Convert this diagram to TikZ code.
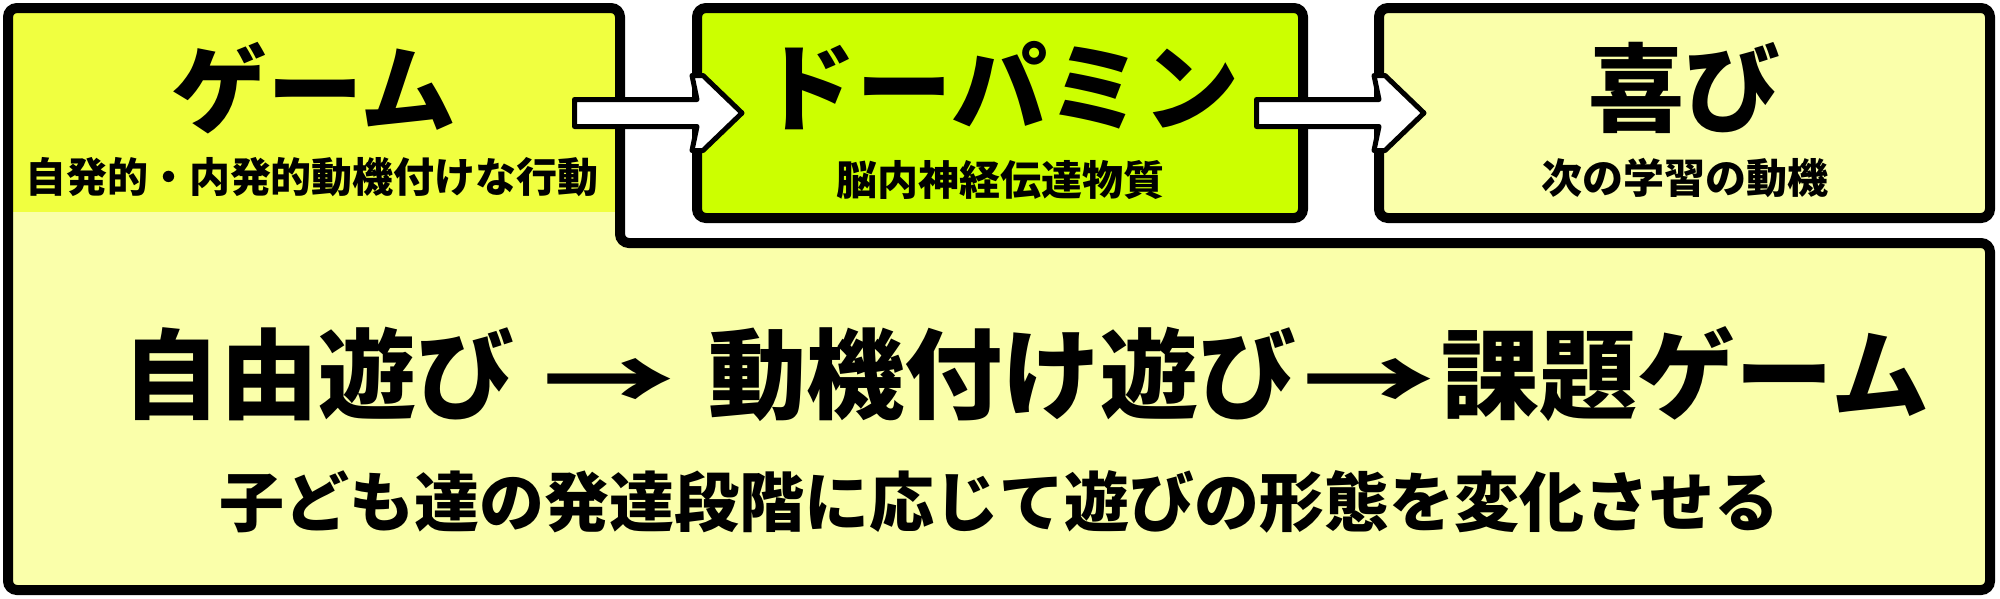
\documentclass[tikz,border=0pt]{standalone}
\usepackage{fontspec}
\setmainfont{Noto Sans CJK JP}
\usepackage{graphicx}
\usetikzlibrary{calc}
\definecolor{brightyel}{RGB}{240,255,64}
\definecolor{paleyel}{RGB}{250,255,170}
\definecolor{dopagreen}{RGB}{204,255,0}
\newcommand\longarr{\hspace{6pt}\resizebox{133pt}{53pt}{→}\hspace{6pt}}
\tikzset{
  outline/.style={draw=black, line width=10pt, rounded corners=9pt},
  topbox/.style={draw=black, line width=10pt, rounded corners=9pt, outer sep=0pt, inner sep=0pt},
  title/.style={font=\fontsize{96}{110}\selectfont\bfseries, inner sep=0pt},
  subtitle/.style={font=\fontsize{41}{48}\selectfont\bfseries, inner sep=0pt},
  blockarrow/.style={draw=black, fill=white, line width=5pt, line join=round},
}
\begin{document}
\begin{tikzpicture}[x=1pt,y=-1pt]
\useasboundingbox (0,0) rectangle (2000,598);
% L-shaped frame
\coordinate (L1) at (8,300);
\coordinate (L2) at (8,8);
\coordinate (L3) at (620,8);
\coordinate (L4) at (620,243);
\coordinate (L5) at (1990,243);
\coordinate (L6) at (1990,590);
\coordinate (L7) at (8,590);
\fill[paleyel, rounded corners=9pt] (L1) -- (L2) -- (L3) -- (L4) -- (L5) -- (L6) -- (L7) -- cycle;
\node[fill=brightyel, inner sep=0pt, outer sep=0pt, anchor=north west,
      minimum width=604pt, minimum height=200pt] (gamearea) at (12,12) {};
\draw[outline] (L1) -- (L2) -- (L3) -- (L4) -- (L5) -- (L6) -- (L7) -- cycle;
% top-left texts
\node[title] (game) at (314,88) {ゲーム};
\node[subtitle] (gamesub) at (312,177) {自発的・内発的動機付けな行動};
% dopamine box
\node[topbox, fill=dopagreen, minimum width=606pt, minimum height=210pt] (dopa) at (1000,113) {};
\node[title] (dopat) at (1000,86) {ドーパミン};
\node[subtitle] (dopasub) at (1000,180) {脳内神経伝達物質};
% joy box
\node[topbox, fill=paleyel, minimum width=611pt, minimum height=210pt] (joy) at (1684.5,113) {};
\node[title] (joyt) at (1684,88) {喜び};
\node[subtitle] (joysub) at (1685,178) {次の学習の動機};
% block arrows
\coordinate (a1) at ($(dopa.west)+(-122.5,0)$);
\draw[blockarrow] (a1) ++(0,-13.5) -- ++(122.5,0) -- ++(-5,-24) -- ++(11,0) -- ++(39,37.5)
  -- ++(-39,37.5) -- ++(-11,0) -- ++(5,-24) -- ++(-122.5,0) -- cycle;
\coordinate (a2) at ($(joy.west)+(-122.5,0)$);
\draw[blockarrow] (a2) ++(0,-13.5) -- ++(122.5,0) -- ++(-5,-24) -- ++(11,0) -- ++(39,37.5)
  -- ++(-39,37.5) -- ++(-11,0) -- ++(5,-24) -- ++(-122.5,0) -- cycle;
% bottom texts
\node[font=\fontsize{98}{110}\selectfont\bfseries, inner sep=0pt] (flow) at (1026,374)
  {自由遊び\hspace{22pt}\longarr\hspace{27pt}動機付け遊び\longarr 課題ゲーム};
\node[font=\fontsize{65}{75}\selectfont\bfseries, inner sep=0pt] (stage) at (999,502)
  {子ども達の発達段階に応じて遊びの形態を変化させる};
\end{tikzpicture}
\end{document}
